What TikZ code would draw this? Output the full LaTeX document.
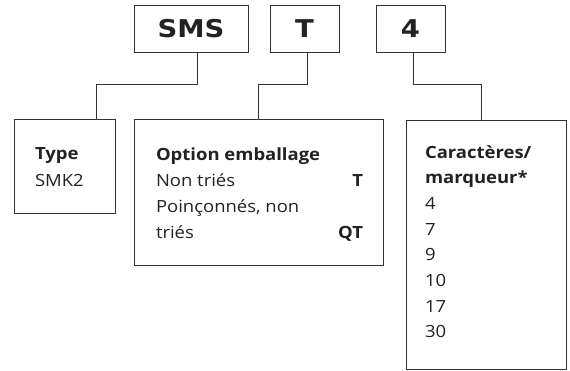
\documentclass[tikz,border=0pt]{standalone}
\usepackage{fontspec}
\setmainfont{Open Sans}[FakeStretch=1.1]
\newfontfamily\codefont{DejaVu Sans}[FakeStretch=1.12]
\usepackage{tikz}

\definecolor{linegray}{HTML}{333333}
\definecolor{textgray}{HTML}{222222}

\begin{document}
\begin{tikzpicture}[x=1pt, y=-1pt, line width=1pt, every node/.style={inner sep=0pt, outer sep=0pt, text=textgray}, codebox/.style={draw=linegray, anchor=north west, minimum width=#1, minimum height=47pt, font=\codefont\bfseries\fontsize{24.5}{28}\selectfont}, infobox/.style={draw=linegray, anchor=north west}, item/.style={anchor=base west, font=\fontsize{16.8}{20}\selectfont}, itemcode/.style={anchor=base east, font=\bfseries\fontsize{16.8}{20}\selectfont}]
	\useasboundingbox (0,0) rectangle (570,370);
	\node[codebox=114pt] (sms) at (134,5) {SMS};
	\node[codebox=69pt] (t) at (270,5) {T};
	\node[codebox=69pt] (four) at (376,5) {4};
	\node[infobox, minimum width=101pt, minimum height=94pt] (type) at (14,119) {};
	\node[infobox, minimum width=249pt, minimum height=146pt] (option) at (134,119) {};
	\node[infobox, minimum width=160pt, minimum height=249pt] (chars) at (406,120) {};
	\draw[linegray] ([xshift=6pt]sms.south) -- ++(0,32) -| ([xshift=31.5pt]type.north);
	\draw[linegray] ([xshift=2.5pt]t.south) -- ++(0,32) -| (option.north);
	\draw[linegray] ([xshift=2.5pt]four.south) -- ++(0,32) -| ([xshift=-5pt]chars.north);
	\node[item, font=\bfseries\fontsize{16.8}{20}\selectfont] (typehead) at (35,159) {Type};
	\node[item] (typeval) at (35,186) {SMK2};
	\node[item, font=\bfseries\fontsize{16.8}{20}\selectfont] (opthead) at (156,160) {Option emballage};
	\node[item] (optone) at (156,186) {Non triés};
	\node[itemcode] (optonecode) at (363,186) {T};
	\node[item] (opttwo) at (156,212.5) {Poinçonnés, non};
	\node[item] (opttwob) at (156,238) {triés};
	\node[itemcode] (opttwocode) at (363,238) {QT};
	\node[item, font=\bfseries\fontsize{16.8}{20}\selectfont] (charshead) at (425,158) {Caractères/};
	\node[item, font=\bfseries\fontsize{16.8}{20}\selectfont] (charsheadb) at (425,183.7) {marqueur*};
	\foreach \n [count=\i] in {4,7,9,10,17,30}
		\node[item] (num\i) at (425,{209.4+25.7*(\i-1)}) {\n};
\end{tikzpicture}
\end{document}
